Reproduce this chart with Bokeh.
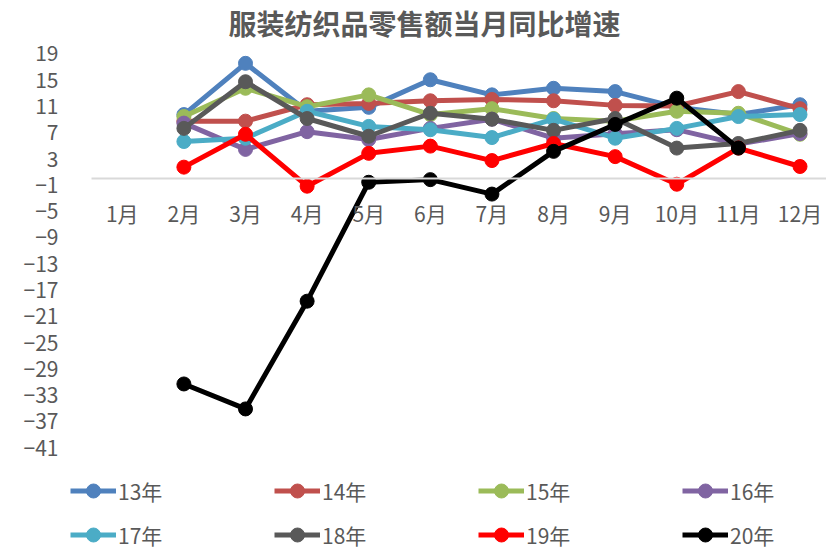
import math
from bokeh.plotting import figure
from bokeh.models import Range1d, FixedTicker, Legend, LegendItem, ColumnDataSource
from bokeh.embed import file_html
from bokeh.resources import INLINE

NaN = float("nan")

months = list(range(1, 13))
month_labels = ["1月", "2月", "3月", "4月", "5月", "6月", "7月", "8月", "9月", "10月", "11月", "12月"]
y_ticks = [19, 15, 11, 7, 3, -1, -5, -9, -13, -17, -21, -25, -29, -33, -37, -41]

series_names = ["13年", "14年", "15年", "16年", "17年", "18年", "19年", "20年"]
y13 = [NaN, 9.7, 17.5, 10.2, 10.8, 15.0, 12.7, 13.7, 13.2, 10.8, 9.7, 11.2]
y14 = [NaN, 8.7, 8.7, 11.2, 11.4, 11.8, 12.0, 11.8, 11.1, 11.0, 13.2, 10.6]
y15 = [NaN, 9.4, 13.7, 10.9, 12.7, 9.7, 10.6, 9.1, 8.7, 10.2, 9.9, 6.7]
y16 = [NaN, 8.4, 4.4, 7.1, 5.9, 7.6, 9.0, 6.1, 6.8, 7.4, 5.2, 6.8]
y17 = [NaN, 5.6, 6.1, 10.2, 7.9, 7.4, 6.2, 9.0, 6.1, 7.6, 9.4, 9.7]
y18 = [NaN, 7.6, 14.7, 9.1, 6.4, 9.9, 9.0, 7.3, 9.1, 4.6, 5.3, 7.3]
y19 = [NaN, 1.7, 6.7, -1.2, 3.8, 4.9, 2.7, 5.3, 3.3, -0.9, 4.6, 1.8]
y20 = [NaN, -31.3, -35.1, -18.7, -0.6, -0.2, -2.4, 4.1, 8.2, 12.2, 4.6, NaN]
series_values = [y13, y14, y15, y16, y17, y18, y19, y20]
colors = ["#4F81BD", "#C0504D", "#9BBB59", "#8064A2", "#4BACC6", "#595959", "#FF0000", "#000000"]

FONT = "Noto Sans CJK SC"
GRAY = "#595959"

p = figure(width=826, height=552, output_backend="svg", toolbar_location=None,
           x_range=Range1d(0.127, 12.43), y_range=Range1d(-56.95, 20.67),
           min_border_left=68, min_border_right=0, min_border_top=31, min_border_bottom=0)
p.outline_line_color = None
p.xgrid.visible = False
p.ygrid.visible = False

p.title.text = "服装纺织品零售额当月同比增速"
p.title.text_font = FONT
p.title.text_font_size = "28px"
p.title.text_font_style = "bold"
p.title.text_color = GRAY
p.title.align = "left"
p.title.offset = 160
p.title.standoff = 0

# category axis drawn at y = 0
xa = p.xaxis[0]
xa.fixed_location = 0
xa.bounds = (0.5, 12.5)
xa.ticker = FixedTicker(ticks=months)
xa.major_label_overrides = {m: lbl for m, lbl in zip(months, month_labels)}
xa.axis_line_color = "#D9D9D9"
xa.axis_line_width = 2
xa.major_tick_line_color = None
xa.minor_tick_line_color = None
xa.major_label_standoff = 14
xa.major_label_text_font = FONT
xa.major_label_text_font_size = "21px"
xa.major_label_text_color = GRAY

ya = p.yaxis[0]
ya.ticker = FixedTicker(ticks=y_ticks)
ya.axis_line_color = None
ya.major_tick_line_color = None
ya.minor_tick_line_color = None
ya.major_label_standoff = 4
ya.major_label_text_font = FONT
ya.major_label_text_font_size = "21px"
ya.major_label_text_color = GRAY

items = []
for name, vals, col in zip(series_names, series_values, colors):
    src = ColumnDataSource(dict(x=months, y=vals))
    r1 = p.line("x", "y", source=src, line_color=col, line_width=5)
    r2 = p.scatter("x", "y", source=src, size=14, fill_color=col, line_color=col)
    items.append(LegendItem(label=name, renderers=[r1, r2]))

legend = Legend(items=items, ncols=4, orientation="horizontal",
                location=(2, 0),
                label_text_font=FONT, label_text_font_size="21px", label_text_color=GRAY,
                glyph_width=46, glyph_height=35, label_height=35, label_width=147,
                label_standoff=2, spacing=9, padding=0, margin=0,
                border_line_color=None, background_fill_alpha=0)
p.add_layout(legend, "center")

open("out.html", "w").write(file_html(p, INLINE))
